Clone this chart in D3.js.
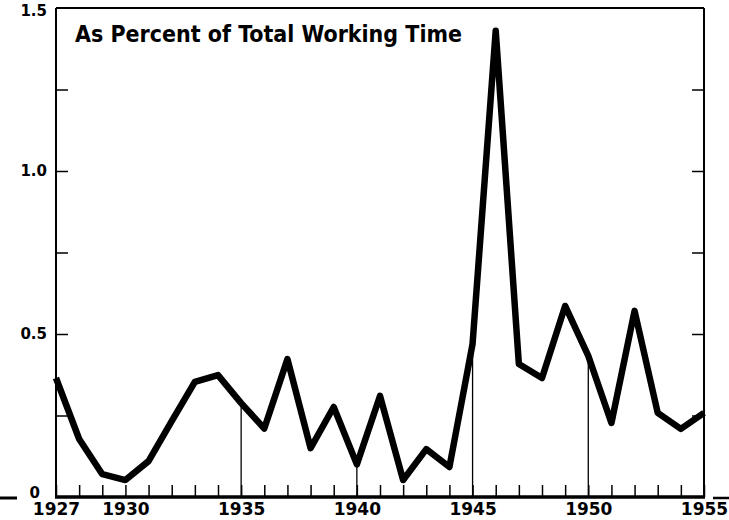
<!DOCTYPE html>
<html>
<head>
<meta charset="utf-8">
<script src="https://cdn.jsdelivr.net/npm/d3@7"></script>
<style>
  body { margin: 0; background: white; }
  svg { display: block; }
</style>
</head>
<body>
<div id="chart"></div>
<script>
// values (percent of total working time)
var years = [1927, 1928, 1929, 1930, 1931, 1932, 1933, 1934, 1935, 1936,
             1937, 1938, 1939, 1940, 1941, 1942, 1943, 1944, 1945, 1946,
             1947, 1948, 1949, 1950, 1951, 1952, 1953, 1954, 1955];
var percent = [0.365, 0.178, 0.07, 0.052, 0.11, 0.233, 0.353, 0.374, 0.288, 0.21,
               0.423, 0.15, 0.276, 0.10, 0.31, 0.052, 0.147, 0.092, 0.47, 1.43,
               0.408, 0.365, 0.586, 0.433, 0.227, 0.571, 0.258, 0.209, 0.258];
var xLabels = [1927, 1930, 1935, 1940, 1945, 1950, 1955];
var dropYears = [1935, 1940, 1945, 1950];
var yTicks = [0, 0.25, 0.5, 0.75, 1.0, 1.25, 1.5];
var yLabels = [0, 0.5, 1.0, 1.5];
var title = "As Percent of Total Working Time";

var margin = {top: 8, right: 25, bottom: 23, left: 56},
    width = 729 - margin.left - margin.right,
    height = 520 - margin.top - margin.bottom;

var svg = d3.select("#chart")
  .append("svg")
    .attr("width", 729)
    .attr("height", 520)
  .append("g")
    .attr("transform", "translate(" + margin.left + "," + margin.top + ")");

var x = d3.scaleLinear().domain([1927, 1955]).range([0, width]);
var y = d3.scaleLinear().domain([0, 1.5]).range([height, 0]);

var labelFont = "'DejaVu Sans', sans-serif";

// x axis, ticks pointing up into the plot
var xAxis = svg.append("g")
  .attr("transform", "translate(0," + height + ")")
  .call(d3.axisBottom(x)
    .tickValues(years)
    .tickSize(-12)
    .tickPadding(6)
    .tickFormat(function(d) { return xLabels.indexOf(d) >= 0 ? d : ""; }));
xAxis.select(".domain").remove();
xAxis.selectAll("line").attr("stroke", "#000").attr("stroke-width", 1.5);
xAxis.selectAll("text")
  .attr("font-family", labelFont)
  .attr("font-weight", "bold")
  .attr("font-size", 17)
  .attr("fill", "#000")
  .attr("dy", "0.72em");

// left axis
var yAxis = svg.append("g")
  .call(d3.axisLeft(y)
    .tickValues(yTicks)
    .tickSize(-12)
    .tickPadding(9)
    .tickFormat(function(d) {
      if (yLabels.indexOf(d) < 0) return "";
      return d === 0 ? "0" : d3.format(".1f")(d);
    }));
yAxis.select(".domain").remove();
yAxis.selectAll("line").attr("stroke", "#000").attr("stroke-width", 1.5);
yAxis.selectAll(".tick").filter(function(d) { return d === 0 || d === 1.5; })
  .select("line").remove();
yAxis.selectAll("text")
  .attr("font-family", labelFont)
  .attr("font-weight", "bold")
  .attr("font-size", 15)
  .attr("fill", "#000");
yAxis.selectAll(".tick").filter(function(d) { return d === 0; })
  .select("text").attr("x", -16).attr("dy", "0.0em");
yAxis.selectAll(".tick").filter(function(d) { return d === 1.5; })
  .select("text").attr("dy", "0.5em");

// right axis ticks
var rAxis = svg.append("g")
  .attr("transform", "translate(" + width + ",0)")
  .call(d3.axisRight(y)
    .tickValues(yTicks.filter(function(d) { return d > 0 && d < 1.5; }))
    .tickSize(-12)
    .tickFormat(""));
rAxis.select(".domain").remove();
rAxis.selectAll("line").attr("stroke", "#000").attr("stroke-width", 1.5);

// frame
svg.append("line").attr("x1", 0).attr("x2", 0).attr("y1", 0).attr("y2", height)
  .attr("stroke", "#000").attr("stroke-width", 2);
svg.append("line").attr("x1", width).attr("x2", width).attr("y1", 0).attr("y2", height)
  .attr("stroke", "#000").attr("stroke-width", 2);
svg.append("line").attr("x1", 0).attr("x2", width).attr("y1", 0).attr("y2", 0)
  .attr("stroke", "#000").attr("stroke-width", 2);
svg.append("line").attr("x1", -1).attr("x2", width + 1).attr("y1", height).attr("y2", height)
  .attr("stroke", "#000").attr("stroke-width", 3.5);

// stray rule bits outside the frame
svg.append("line").attr("x1", -margin.left).attr("x2", -39).attr("y1", height + 1).attr("y2", height + 1)
  .attr("stroke", "#000").attr("stroke-width", 3);
svg.append("line").attr("x1", width + 9).attr("x2", width + margin.right).attr("y1", height + 1).attr("y2", height + 1)
  .attr("stroke", "#000").attr("stroke-width", 2.5);

// drop lines at the five-year marks
svg.selectAll(".drop")
  .data(dropYears)
  .enter()
  .append("line")
    .attr("class", "drop")
    .attr("x1", function(d) { return x(d); })
    .attr("x2", function(d) { return x(d); })
    .attr("y1", function(d) { return y(percent[years.indexOf(d)]); })
    .attr("y2", height)
    .attr("stroke", "#000")
    .attr("stroke-width", 1.3);

// the data line
var line = d3.line()
  .x(function(d, i) { return x(years[i]); })
  .y(function(d) { return y(d); });

svg.append("path")
  .datum(percent)
  .attr("d", line)
  .attr("fill", "none")
  .attr("stroke", "#000")
  .attr("stroke-width", 6.5)
  .attr("stroke-linejoin", "round");

// title
svg.append("text")
  .attr("x", 19)
  .attr("y", 34)
  .attr("font-family", "'DejaVu Sans Condensed', 'DejaVu Sans', sans-serif")
  .attr("font-weight", "bold")
  .attr("font-size", 23)
  .attr("textLength", 387)
  .attr("lengthAdjust", "spacingAndGlyphs")
  .text(title);
</script>
</body>
</html>
